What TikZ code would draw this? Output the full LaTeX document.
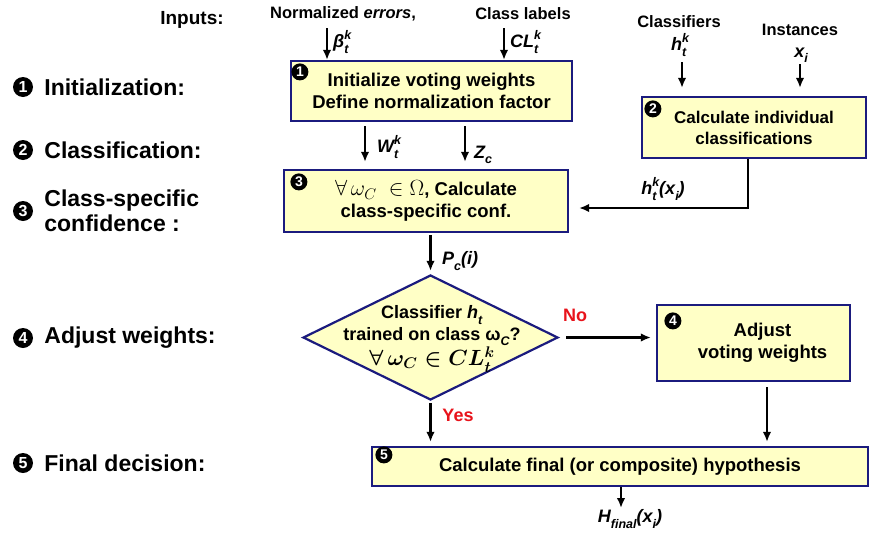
\documentclass[tikz,border=0pt]{standalone}
\usepackage{fix-cm}
\usepackage{amsmath,amssymb}
\usepackage[no-math]{fontspec}
\setmainfont{Liberation Sans}
\usetikzlibrary{positioning,arrows.meta,shapes.geometric}
\definecolor{boxfill}{HTML}{FFFFC6}
\definecolor{boxline}{HTML}{1B1B7E}
\definecolor{answer}{HTML}{E8131B}
% small size for indices in sans labels
\newcommand{\idxsz}{\fontsize{12.5}{12.5}\selectfont}
\newcommand{\subsup}[3]{#1\rlap{\raisebox{-0.55ex}{\idxsz #2}}\raisebox{0.85ex}{\idxsz #3}}
\newcommand{\subonly}[2]{#1\raisebox{-0.55ex}{\idxsz #2}}
% formulas a bit larger than the sans text around them
\newcommand{\bigmath}[1]{{\fontsize{22}{22}\selectfont$#1$}}

\tikzset{
  stepbox/.style={draw=boxline,line width=2.2pt,fill=boxfill,align=center,
    font=\fontsize{18.5}{22}\selectfont\bfseries,inner sep=0pt},
  boxtxt/.style={align=center,font=\fontsize{18.5}{22}\selectfont\bfseries,inner sep=0pt},
  decide/.style={diamond,draw=boxline,line width=2.2pt,fill=boxfill,inner sep=0pt},
  num/.style={circle,fill=black,text=white,inner sep=0pt,minimum size=17pt,
    font=\fontsize{14}{14}\selectfont\bfseries},
  bignum/.style={num,minimum size=20pt,font=\fontsize{16}{16}\selectfont\bfseries},
  stage/.style={font=\fontsize{23}{25}\selectfont\bfseries,align=left,inner sep=0pt},
  inp/.style={font=\fontsize{16.5}{18}\selectfont\bfseries,align=center,inner sep=0pt},
  elbl/.style={font=\fontsize{18}{20}\selectfont\bfseries\itshape,inner sep=0pt},
  yesno/.style={font=\fontsize{18}{20}\selectfont\bfseries,text=answer,inner sep=0pt},
  arr/.style={-{Latex[length=10pt,width=8.5pt]},line width=2.6pt}
}

\begin{document}
\begin{tikzpicture}[x=1pt,y=-1pt]
\useasboundingbox (0,0) rectangle (869,533);

% stages on the left
\node[bignum] (n1) at (23,87) {1};
\node[stage,right=11pt of n1] (s1) {Initialization:};
\node[bignum] (n2) at (23,150) {2};
\node[stage,right=11pt of n2] (s2) {Classification:};
\node[bignum] (n3) at (23,211) {3};
\node[stage,right=11pt of n3] (s3) {Class-specific\\confidence :};
\node[bignum] (n4) at (23,338) {4};
\node[stage,right=11pt of n4] (s4) {Adjust weights:};
\node[bignum] (n5) at (23,463) {5};
\node[stage,right=11pt of n5] (s5) {Final decision:};

% inputs
\node[font=\fontsize{19}{20}\selectfont\bfseries,inner sep=0pt] (inputs) at (192,20) {Inputs:};
\node[inp] (nerr) at (343,14) {Normalized \textit{errors},};
\node[inp] (clab) at (523,14) {Class labels};
\node[inp] (clf) at (679,22) {Classifiers};
\node[inp] (inst) at (800,30) {Instances};
\node[elbl,anchor=west] (beta) at (333,42) {\subsup{β}{t}{k}};
\node[elbl,anchor=west] (cl) at (510,42) {\subsup{CL}{t}{k}};
\node[elbl] (hk) at (680,45) {\subsup{h}{t}{k}};
\node[elbl] (xi) at (801,55) {\subonly{x}{i}};

% process boxes
\node[stepbox,minimum width=281pt,minimum height=60pt] (b1) at (431.5,91)
  {Initialize voting weights\\Define normalization factor};
\node[stepbox,minimum width=224pt,minimum height=61pt,font=\fontsize{17}{21}\selectfont\bfseries] (b2) at (754,127.5)
  {Calculate individual\\classifications};
\node[stepbox,minimum width=284pt,minimum height=62pt] (b3) at (426,201)
  {\bigmath{\forall\,\omega_{C}\;\in\Omega}, Calculate\\class-specific conf.};
\node[decide,minimum width=255pt,minimum height=125pt] (d) at (430.5,337.5) {};
\node[boxtxt,font=\fontsize{18}{21.5}\selectfont\bfseries] (dtxt) at (432,339)
  {Classifier \subonly{\textit{h}}{\textit{t}}\\trained on class \subonly{ω}{\textit{C}}?\\
   \bigmath{\boldsymbol{\forall\,\omega_{C}\in CL_t^k}}};
\node[stepbox,minimum width=193pt,minimum height=76pt,
  label={[boxtxt,xshift=9pt]center:Adjust\\voting weights}] (b4) at (753.5,343) {};
\node[stepbox,minimum width=496pt,minimum height=39pt] (b5) at (620,466.5)
  {Calculate final (or composite) hypothesis};

% step numbers inside the boxes
\node[num] (m1) at ([shift={(10,12)}]b1.north west) {1};
\node[num] (m2) at ([shift={(12,13)}]b2.north west) {2};
\node[num] (m3) at ([shift={(16,13)}]b3.north west) {3};
\node[num] (m4) at ([shift={(17,17)}]b4.north west) {4};
\node[num] (m5) at ([shift={(13,9)}]b5.north west) {5};

% input arrows
\coordinate (errtail) at (327,28);
\coordinate (cltail) at (504,28);
\coordinate (clftail) at (682,62);
\coordinate (insttail) at (800,64);
\draw[arr] (errtail) -- (errtail |- b1.north);
\draw[arr] (cltail) -- (cltail |- b1.north);
\draw[arr,shorten >=8pt] (clftail) -- (clftail |- b2.north);
\draw[arr,shorten >=8pt] (insttail) -- (insttail |- b2.north);

% box 1 -> box 3
\coordinate (colW) at (365,140);
\coordinate (colZ) at (465,140);
\draw[arr,shorten <=4pt,shorten >=7pt] (b1.south -| colW) -- (b3.north -| colW);
\draw[arr,shorten <=4pt,shorten >=7pt] (b1.south -| colZ) -- (b3.north -| colZ);
\node[elbl,anchor=west] (wk) at (377,147) {\subsup{W}{t}{k}};
\node[elbl,anchor=west] (zc) at (474,155) {\subonly{Z}{c}};

% box 2 -> box 3
\coordinate (hturn) at (748,208);
\draw[arr,shorten >=10pt] (b2.south -| hturn) |- (b3.east |- hturn);
\node[elbl] (hx) at (663,189) {\subsup{h}{t}{k}(\subonly{x}{i})};

% box 3 -> decision
\draw[arr,shorten <=2pt,shorten >=3pt] (b3.south -| d.north) -- (d.north);
\node[elbl,anchor=west] (pc) at (442,261) {\subonly{P}{c}(i)};

% decision branches
\draw[arr,shorten <=7pt,shorten >=5pt] (d.east) -- (d.east -| b4.west);
\node[yesno] (no) at (575,315) {No};
\draw[arr,shorten <=2pt,shorten >=4pt] (d.south) -- (d.south |- b5.north);
\node[yesno] (yes) at (458,415) {Yes};
\coordinate (col4) at (767,400);
\draw[arr,shorten <=5pt,shorten >=4pt] (b4.south -| col4) -- (b5.north -| col4);

% output
\coordinate (out) at (621,508);
\draw[arr] (b5.south -| out) -- (out);
\node[elbl] (hfin) at (630,519) {\subonly{H}{final}(\subonly{x}{i})};
\end{tikzpicture}
\end{document}
